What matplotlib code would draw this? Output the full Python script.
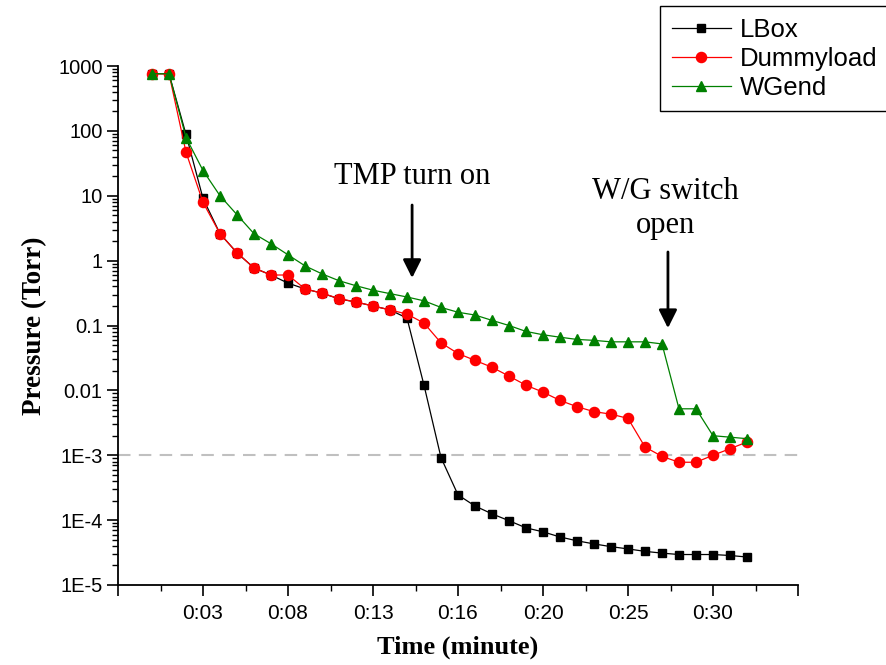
import matplotlib
matplotlib.use("Agg")
import matplotlib.pyplot as plt
import numpy as np
from matplotlib.ticker import FixedLocator, LogLocator, NullFormatter

# ---------------- data ----------------
sample_index = list(range(36))

lbox = [760, 760, 88, 9.1, 2.6, 1.32, 0.77, 0.6, 0.45, 0.366,
        0.315, 0.257, 0.23, 0.2, 0.174, 0.13, 0.012, 9.2e-4, 2.45e-4, 1.65e-4,
        1.25e-4, 9.8e-5, 7.6e-5, 6.6e-5, 5.5e-5, 4.8e-5, 4.3e-5, 3.9e-5, 3.6e-5, 3.3e-5,
        3.1e-5, 2.95e-5, 2.95e-5, 2.95e-5, 2.85e-5, 2.7e-5]

dummyload = [760, 760, 47, 7.9, 2.6, 1.32, 0.77, 0.6, 0.6, 0.366,
             0.315, 0.26, 0.23, 0.2, 0.174, 0.15, 0.109, 0.054, 0.037, 0.029,
             0.0227, 0.0166, 0.012, 0.0094, 0.007, 0.0056, 0.0047, 0.0043, 0.0037, 0.00134,
             9.6e-4, 7.8e-4, 7.8e-4, 1.0e-3, 1.26e-3, 1.6e-3]

wgend = [760, 760, 79, 24.5, 10, 5.1, 2.6, 1.82, 1.23, 0.83,
         0.625, 0.49, 0.41, 0.35, 0.31, 0.275, 0.24, 0.19, 0.16, 0.145,
         0.12, 0.10, 0.081, 0.072, 0.066, 0.061, 0.059, 0.056, 0.056, 0.056,
         0.052, 0.0052, 0.0052, 0.0020, 0.0019, 0.0018]

series_names = ["LBox", "Dummyload", "WGend"]

x_tick_pos = [-2, 3, 8, 13, 18, 23, 28, 33, 38]
x_tick_labels = ["", "0:03", "0:08", "0:13", "0:16", "0:20", "0:25", "0:30", ""]

y_tick_vals = [1e-5, 1e-4, 1e-3, 1e-2, 1e-1, 1, 10, 100, 1000]
y_tick_labels = ["1E-5", "1E-4", "1E-3", "0.01", "0.1", "1", "10", "100", "1000"]

threshold = 1e-3

# ---------------- figure ----------------
W, H = 886, 665
fig = plt.figure(figsize=(W / 100, H / 100), dpi=100)
ax = fig.add_axes([118 / W, 1 - 585 / H, (798 - 118) / W, (585 - 66) / H])

sans = ["Liberation Sans", "Arial", "DejaVu Sans"]
serif = ["Liberation Serif", "Times New Roman", "DejaVu Serif"]

ax.axhline(threshold, color="#c0c0c0", lw=1.5, ls=(0, (6, 4)), zorder=1)

ax.plot(sample_index, lbox, color="black", lw=0.9, marker="s", ms=6,
        mfc="black", mec="black", label=series_names[0], zorder=3)
ax.plot(sample_index, dummyload, color="red", lw=0.9, marker="o", ms=7.3,
        mfc="red", mec="red", label=series_names[1], zorder=4)
ax.plot(sample_index, wgend, color="#008000", lw=0.9, marker="^", ms=7.8,
        mfc="#008000", mec="#008000", label=series_names[2], zorder=5)

ax.set_yscale("log")
ax.set_ylim(1e-5, 1000)
ax.set_xlim(-2, 38)

ax.xaxis.set_major_locator(FixedLocator(x_tick_pos))
ax.set_xticklabels(x_tick_labels, fontfamily=sans, fontsize=15)
ax.xaxis.set_minor_locator(FixedLocator([p + 2.5 for p in x_tick_pos[:-1]]))

ax.yaxis.set_major_locator(FixedLocator(y_tick_vals))
ax.set_yticklabels(y_tick_labels, fontfamily=sans, fontsize=14.5)
ax.yaxis.set_minor_locator(LogLocator(base=10, subs=np.arange(2, 10), numticks=20))
ax.yaxis.set_minor_formatter(NullFormatter())

ax.tick_params(axis="x", which="major", direction="out", length=8, width=1.2, pad=6)
ax.tick_params(axis="y", which="major", direction="out", length=8, width=1.2, pad=3)
ax.tick_params(axis="both", which="minor", direction="out", length=4.5, width=1.0)

for s in ["top", "right"]:
    ax.spines[s].set_visible(False)
for s in ["left", "bottom"]:
    ax.spines[s].set_linewidth(1.3)

ax.set_xlabel("Time (minute)", fontfamily=serif, fontsize=19, fontweight="bold", labelpad=9)
ax.set_ylabel("Pressure (Torr)", fontfamily=serif, fontsize=19.5, fontweight="bold", labelpad=8)

# annotations
tmp_x = 15.3
ax.text(tmp_x, 19.5, "TMP turn on", fontfamily=serif, fontsize=22, ha="center", va="center")
ax.annotate("", xy=(tmp_x, 0.54), xytext=(tmp_x, 7.2),
            arrowprops=dict(arrowstyle="-|>,head_length=0.5,head_width=0.25",
                            mutation_scale=22, lw=2, color="black", shrinkA=0, shrinkB=0))

wg_x = 30.35
ax.text(30.2, 6.4, "W/G switch\nopen", fontfamily=serif, fontsize=22, ha="center", va="center",
        linespacing=1.25)
ax.annotate("", xy=(wg_x, 0.091), xytext=(wg_x, 1.36),
            arrowprops=dict(arrowstyle="-|>,head_length=0.5,head_width=0.25",
                            mutation_scale=22, lw=2, color="black", shrinkA=0, shrinkB=0))

leg = fig.legend(loc="upper left", bbox_to_anchor=(660 / W, 1 - 6 / H),
                 bbox_transform=fig.transFigure, prop={"family": sans, "size": 18.5},
                 frameon=True, fancybox=False, shadow=False, framealpha=1,
                 edgecolor="black", borderpad=0.45, labelspacing=0.2,
                 handlelength=2.3, handletextpad=0.35, borderaxespad=0)
leg.get_frame().set_linewidth(1.0)

fig.savefig("out.png", dpi=100)
